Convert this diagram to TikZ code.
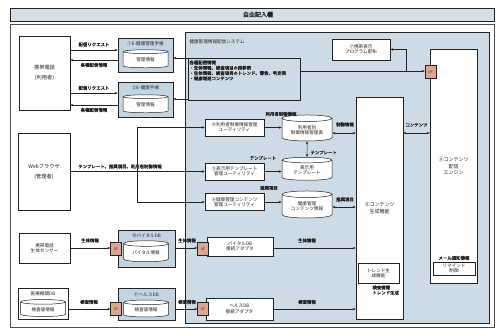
\documentclass[tikz,border=0pt]{standalone}
\usepackage{fontspec}
\setmainfont{Noto Sans CJK JP}[AutoFakeBold=1.6]
\usetikzlibrary{shapes.geometric,arrows.meta}
\definecolor{sysblue}{RGB}{204,219,230}
\definecolor{boxblue}{RGB}{196,213,226}
\definecolor{ifcol}{RGB}{222,166,146}
\definecolor{bannercol}{RGB}{212,223,232}
\definecolor{ink}{RGB}{35,35,35}
\begin{document}
\begin{tikzpicture}[x=1pt,y=-1pt,
 base/.style={font=\fontsize{4.6}{5.3}\selectfont, text=ink, align=center, inner sep=0.3pt},
 sz/.style 2 args={minimum width=#1pt, minimum height=#2pt},
 wbox/.style={base, draw=ink, line width=0.5pt, fill=white},
 bbox/.style={base, draw=ink, line width=0.5pt, fill=boxblue},
 dbs/.style={base, cylinder, shape border rotate=90, aspect=0.2, draw=ink, line width=0.5pt, fill=white},
 iface/.style={base, draw=ink, line width=0.4pt, fill=ifcol, minimum width=11pt, minimum height=13pt, font=\fontsize{3.5}{4}\selectfont},
 lbl/.style={base},
 blbl/.style={base, font=\fontsize{4.4}{5.3}\selectfont\bfseries},
 arr/.style={-{Stealth[length=3pt,width=2.4pt]}, line width=0.5pt, draw=ink},
 darr/.style={{Stealth[length=3pt,width=2.4pt]}-{Stealth[length=3pt,width=2.4pt]}, line width=0.5pt, draw=ink},
 ln/.style={line width=0.5pt, draw=ink}
]
\useasboundingbox (0,0) rectangle (497,336);
\fill[white] (0,0) rectangle (497,336);
% row coordinates
\coordinate (r50) at (0,50); \coordinate (r60) at (0,60);
\coordinate (r93) at (0,93); \coordinate (r105) at (0,105);
\coordinate (r57) at (0,58); \coordinate (r99) at (0,99);
\coordinate (r71) at (0,71); \coordinate (r133) at (0,133);
\coordinate (r171) at (0,171.5); \coordinate (r207) at (0,207);
\coordinate (r248) at (0,248); \coordinate (r309) at (0,309);
% banner and frames
\node[base, draw=ink, fill=bannercol, line width=0.5pt, sz={484}{13}] (banner) at (252,14.5) {};
\node[base, font=\fontsize{6}{7}\selectfont\bfseries] (bt) at (258,14.5) {自由記入欄};
\node[draw=ink!80, line width=0.5pt, sz={484}{303}] (frame) at (252,175.5) {};
\node[draw=ink, fill=sysblue, line width=0.5pt, sz={304}{291}] (sys) at (337,177.5) {};
\node[lbl, anchor=west] (syst) at (189,42) {健康管理情報配信システム};
% info box
\node[base, draw=ink, line width=0.5pt, sz={112}{42}] (info) at (244,79) {};
\node[blbl, anchor=north west, align=left] (infot) at (189,60) {各種配信情報\\・生体情報、検査項目の推移表\\・生体情報、検査項目のトレンド、警告、判定表\\・健康増進コンテンツ};
% left phone
\node[wbox, sz={51}{74}, font=\fontsize{5.2}{10}\selectfont] (phone) at (44.5,73) {携帯電話\\(利用者)};
% E boxes
\node[bbox, sz={55}{34}] (e1) at (145.5,55) {};
\node[lbl] (e1t) at (145.5,44) {①E-健康管理手帳};
\node[dbs, sz={45}{18}] (e1d) at (145.5,60) {管理情報};
\node[bbox, sz={55}{35}] (e2) at (145.5,99.5) {};
\node[lbl] (e2t) at (145.5,88) {②E-健康手帳};
\node[dbs, sz={45}{18}] (e2d) at (145.5,105) {管理情報};
\draw[arr] (phone.east |- r50) -- (e1.west |- r50);
\draw[arr] (e1.west |- r60) -- (phone.east |- r60);
\draw[arr] (phone.east |- r93) -- (e2.west |- r93);
\draw[arr] (e2.west |- r105) -- (phone.east |- r105);
\node[blbl] (l1) at (94,44.5) {配信リクエスト};
\node[blbl] (l2) at (94,65) {各種配信情報};
\node[blbl] (l3) at (94,88) {配信リクエスト};
\node[blbl] (l4) at (94,110) {各種配信情報};
\draw[arr] (info.west |- r57) -- (e1.east |- r57);
\draw[arr] (info.west |- r99) -- (e2.east |- r99);
% top right
\node[wbox, sz={58}{21}] (p7) at (361,49.5) {⑦携帯表示\\プログラム配布};
\node[wbox, sz={47}{234}, font=\fontsize{5}{6.5}\selectfont] (p9) at (453.5,166) {⑨コンテンツ\\配信\\エンジン};
\node[blbl] (remt) at (454,258) {メール通知情報};
\node[wbox, sz={42}{13}] (rem) at (454,268.5) {リマインド\\制御};
\node[iface] (if1) at (430.5,72) {I/F};
\draw[arr] (info.east |- r71) -- (if1.west |- r71);
\coordinate (j1) at (406,71);
\draw[arr] (j1) |- (p7.east);
% content generation
\node[wbox, sz={47}{222}, font=\fontsize{5}{6.5}\selectfont] (p8) at (379.5,208) {⑧コンテンツ\\生成機能};
\node[wbox, sz={41}{20}] (trend) at (378.5,273) {トレンド生\\成機能};
\node[blbl, anchor=north west, align=left] (trendt) at (372,285) {検査情報\\トレンド生成};
\draw[darr] (p8.east |- r133) -- (p9.west |- r133);
\node[blbl] (lc) at (416.5,125) {コンテンツ};
% web browser
\node[wbox, sz={52}{77}, font=\fontsize{5.2}{10}\selectfont] (web) at (44,171.5) {Webブラウザ\\(管理者)};
\node[wbox, sz={59}{17}] (u1) at (234.5,127.5) {④利用者制御情報管理\\ユーティリティ};
\node[wbox, sz={59}{17}] (u2) at (234.5,171.5) {⑤表示用テンプレート\\管理ユーティリティ};
\node[wbox, sz={59}{17}] (u3) at (234.5,202) {⑥健康管理コンテンツ\\管理ユーティリティ};
\draw[arr] (web.east |- r171) -- (u2.west |- r171);
\coordinate (jv1) at (137,127.5);
\coordinate (jv3) at (137,202);
\draw[ln] (jv1) -- (jv3);
\draw[arr] (jv1) -- (u1.west);
\draw[arr] (jv3) -- (u3.west);
\node[blbl] (wl) at (120,166.5) {テンプレート、推奨項目、利用者制御情報};
% databases
\node[dbs, sz={50}{26}] (d1) at (307,130) {利用者別\\制御情報管理表};
\node[dbs, sz={50}{23}] (d2) at (307,170.5) {表示用\\テンプレート};
\node[dbs, sz={50}{27}] (d3) at (307,206.5) {健康管理\\コンテンツ情報};
\draw[arr] (u1.east) -- (u1.east -| d1.west);
\draw[arr] (u2.east) -- (u2.east -| d2.west);
\draw[arr] (u3.east) -- (u3.east -| d3.west);
\node[blbl] (ld1) at (281,114) {利用者制御情報};
\node[blbl] (ld2) at (263,158) {テンプレート};
\node[blbl] (ld3) at (269,188) {推奨項目};
\draw[darr] (d1.south) -- (d2.north);
\node[blbl, anchor=west] (dtl) at (310,152.5) {テンプレート};
\draw[darr] (d1.east |- r133) -- (p8.west |- r133);
\node[blbl] (lci) at (345,124.5) {制御情報};
\draw[darr] (d3.east |- r207) -- (p8.west |- r207);
\node[blbl] (lsi) at (345,199.5) {推奨項目};
% vital row
\node[wbox, sz={51}{30}] (sensor) at (44.5,248) {携帯電話\\生体センサー};
\node[bbox, sz={57}{37}] (vdb) at (146.5,248.5) {};
\node[lbl] (vdbt) at (146.5,236) {⑩バイタルDB};
\node[dbs, sz={45}{21}] (vdbd) at (146,253) {バイタル情報};
\node[iface] (if2) at (116,249) {I/F};
\node[wbox, sz={66}{19}] (ad1) at (240,246.5) {バイタルDB\\接続アダプタ};
\node[iface] (if3) at (203,249) {I/F};
\draw[arr] (sensor.east |- r248) -- (if2.west |- r248);
\draw[arr] (vdb.east |- r248) -- (if3.west |- r248);
\draw[arr] (ad1.east |- r248) -- (p8.west |- r248);
\node[blbl] (lv1) at (90,240.5) {生体情報};
\node[blbl] (lv2) at (187,240.5) {生体情報};
\node[blbl] (lv3) at (307,240.5) {生体情報};
% health row
\node[wbox, sz={50}{31}] (med) at (43,304) {};
\node[lbl] (medt) at (43,294) {医療機関DB};
\node[dbs, sz={45}{17}] (medd) at (43,309.5) {検査値情報};
\node[bbox, sz={57}{32}] (hdb) at (146.5,304) {};
\node[lbl] (hdbt) at (146.5,294.5) {⑪ヘルスDB};
\node[dbs, sz={45}{17}] (hdbd) at (146,310) {検査値情報};
\node[iface] (if4) at (116,309) {I/F};
\node[wbox, sz={67}{22}] (ad2) at (239.5,309) {ヘルスDB\\接続アダプタ};
\node[iface] (if5) at (203,309) {I/F};
\draw[arr] (med.east |- r309) -- (if4.west |- r309);
\draw[arr] (hdb.east |- r309) -- (if5.west |- r309);
\draw[arr] (ad2.east |- r309) -- (p8.west |- r309);
\node[blbl] (lh1) at (89,302) {検査情報};
\node[blbl] (lh2) at (187,302) {検査情報};
\node[blbl] (lh3) at (307,302) {検査情報};
\end{tikzpicture}
\end{document}
